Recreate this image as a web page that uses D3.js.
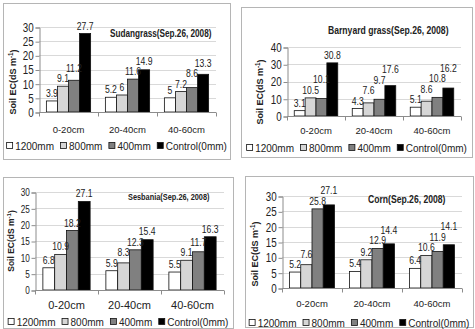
<!DOCTYPE html>
<html>
<head>
<meta charset="utf-8">
<script src="https://cdn.jsdelivr.net/npm/d3@7"></script>
<style>
body { margin: 0; background: #fff; }
svg { display: block; }
text { fill: #222; }
</style>
</head>
<body>
<script>
// depth classes and irrigation series
const categories = ["0-20cm", "20-40cm", "40-60cm"];
const seriesNames = ["1200mm", "800mm", "400mm", "Control(0mm)"];
const seriesColors = ["#ffffff", "#d6d6d6", "#808080", "#000000"];

// soil EC values, one row per depth, one value per series
const sudangrass = [[3.9, 9.1, 11.2, 27.7], [5.2, 6, 11.6, 14.9], [5, 7.2, 8.6, 13.3]];
const barnyard   = [[3.1, 10.5, 10.1, 30.8], [4.3, 7.6, 9.7, 17.6], [5.1, 8.6, 10.8, 16.2]];
const sesbania   = [[6.8, 10.9, 18.2, 27.1], [5.9, 8.3, 12.3, 15.4], [5.5, 9.1, 11.7, 16.3]];
const corn       = [[5.2, 7.6, 25.8, 27.1], [5.4, 9.2, 12.9, 14.4], [6.4, 10.6, 11.9, 14.1]];

const SANS = "'Liberation Sans',Arial,sans-serif";
const SQUEEZE = 0.82; // no narrow face installed, so squeeze Liberation Sans
const LABEL_STEP = 10.5; // vertical room one value label needs

// layout of each small chart
let panels = [
	{title: "Sudangrass(Sep.26, 2008)", data: sudangrass, yMax: 30, yStep: 5,
	 box: [3, 3, 230, 159], plot: [39, 216, 27, 112], titleX: 110, titleY: 33, titleSize: 10,
	 tickFont: 12, catY: 130, catFont: 9.5, legY: 146, yLabX: 13, yLabY: 82, yLabFont: 9},
	{title: "Barnyard grass(Sep.26, 2008)", data: barnyard, yMax: 40, yStep: 10,
	 box: [241, 7, 472, 157], plot: [287, 461, 47, 116], titleX: 328, titleY: 30, titleSize: 10.5,
	 tickFont: 12, catY: 131, catFont: 9.5, legY: 148, yLabX: 260, yLabY: 92, yLabFont: 9},
	{title: "Sesbania(Sep.26, 2008)", data: sesbania, yMax: 30, yStep: 5,
	 box: [3, 177, 233, 328], plot: [35, 224, 192, 290], titleX: 128, titleY: 197, titleSize: 9,
	 tickFont: 10, catY: 305, catFont: 11, legY: 322, yLabX: 11, yLabY: 241, yLabFont: 8.5},
	{title: "Corn(Sep.26, 2008)", data: corn, yMax: 30, yStep: 5,
	 box: [245, 176, 473, 327], plot: [282, 462, 196, 288], titleX: 368, titleY: 199, titleSize: 10.5,
	 tickFont: 12, catY: 304, catFont: 9.5, legY: 323, yLabX: 255, yLabY: 254, yLabFont: 9}
];

let svg = d3.select("body").append("svg")
	.attr("width", 475)
	.attr("height", 329);

svg.append("rect").attr("width", 475).attr("height", 329).attr("fill", "#fff");

// condensed text: plain text squeezed horizontally around its anchor
function narrowText(parent, x, y, str, size, anchor, weight) {
	return parent.append("text")
		.attr("transform", "translate(" + x + "," + y + ") scale(" + SQUEEZE + ",1)")
		.attr("text-anchor", anchor)
		.style("font-family", SANS)
		.style("font-size", size + "px")
		.style("font-weight", weight || "normal")
		.text(str);
}

panels.forEach(function(p) {
	let g = svg.append("g");
	let [px0, px1, pyTop, pyBot] = p.plot;

	// frame around the chart
	g.append("rect")
		.attr("x", p.box[0] + 0.5).attr("y", p.box[1] + 0.5)
		.attr("width", p.box[2] - p.box[0]).attr("height", p.box[3] - p.box[1])
		.attr("fill", "none").attr("stroke", "#b5b5b5");

	let xScale = d3.scaleBand().domain(categories).range([px0, px1])
		.paddingInner(0.25).paddingOuter(0.125);
	let xInner = d3.scaleBand().domain(seriesNames).range([0, xScale.bandwidth()]);
	let yScale = d3.scaleLinear().domain([0, p.yMax]).range([pyBot, pyTop]);
	let ticks = d3.range(0, p.yMax + 0.001, p.yStep);

	// gridlines
	g.append("g").selectAll("line")
		.data(ticks.slice(1))
		.enter().append("line")
			.attr("x1", px0).attr("x2", px1)
			.attr("y1", function(d) { return Math.round(yScale(d)) + 0.5; })
			.attr("y2", function(d) { return Math.round(yScale(d)) + 0.5; })
			.attr("stroke", "#d9d9d9");

	// y axis
	let yAxis = g.append("g")
		.attr("transform", "translate(" + (px0 + 0.5) + ",0.5)")
		.call(d3.axisLeft(yScale).tickValues(ticks).tickSize(4).tickPadding(3));
	yAxis.select(".domain").attr("stroke", "#8c8c8c");
	yAxis.selectAll(".tick line").attr("stroke", "#8c8c8c");
	yAxis.selectAll(".tick text")
		.attr("transform", "scale(" + SQUEEZE + ",1)")
		.style("font-family", SANS).style("font-size", p.tickFont + "px").attr("fill", "#333");

	// bars
	let groups = g.append("g").selectAll("g")
		.data(p.data)
		.enter().append("g")
			.attr("transform", function(d, i) { return "translate(" + xScale(categories[i]) + ",0)"; });

	groups.selectAll("rect")
		.data(function(d) { return d; })
		.enter().append("rect")
			.attr("x", function(d, j) { return xInner(seriesNames[j]); })
			.attr("y", function(d) { return yScale(d); })
			.attr("width", xInner.bandwidth())
			.attr("height", function(d) { return pyBot - yScale(d); })
			.attr("fill", function(d, j) { return seriesColors[j]; })
			.attr("stroke", "#111").attr("stroke-width", 0.8);

	// value labels; a label that would collide with an earlier one is lifted above it
	groups.each(function(row) {
		let grp = d3.select(this);
		let placed = [];
		row.forEach(function(v, j) {
			let cx = xInner(seriesNames[j]) + xInner.bandwidth() / 2;
			let y = yScale(v) - 4;
			let t = narrowText(grp, cx, y, String(v), 10.5, "middle").attr("fill", "#333");
			let w = t.node().getComputedTextLength() * SQUEEZE;
			let moved = true;
			while (moved) {
				moved = false;
				placed.forEach(function(q) {
					if (cx - w / 2 < q.right && Math.abs(y - q.y) < LABEL_STEP) {
						y = q.y - LABEL_STEP;
						moved = true;
					}
				});
			}
			t.attr("transform", "translate(" + cx + "," + y + ") scale(" + SQUEEZE + ",1)");
			placed.push({right: cx + w / 2, y: y});
		});
	});

	// x axis with ticks between categories
	let xAxis = g.append("g")
		.attr("transform", "translate(0," + (pyBot + 0.5) + ")");
	xAxis.append("line").attr("x1", px0).attr("x2", px1).attr("stroke", "#8c8c8c");
	xAxis.selectAll("line.tk")
		.data(d3.range(0, categories.length + 1))
		.enter().append("line")
			.attr("class", "tk")
			.attr("x1", function(i) { return Math.round(px0 + i * xScale.step()) + 0.5; })
			.attr("x2", function(i) { return Math.round(px0 + i * xScale.step()) + 0.5; })
			.attr("y1", 0).attr("y2", 4)
			.attr("stroke", "#8c8c8c");

	g.append("g").selectAll("text")
		.data(categories)
		.enter().append("text")
			.attr("x", function(d) { return xScale(d) + xScale.bandwidth() / 2; })
			.attr("y", p.catY)
			.attr("dy", "0.35em")
			.attr("text-anchor", "middle")
			.style("font-family", SANS).style("font-size", p.catFont + "px")
			.text(function(d) { return d; });

	// chart title
	narrowText(g, p.titleX, p.titleY, p.title, p.titleSize, "start", "bold")
		.attr("dy", "0.35em").attr("fill", "#111");

	// y axis title
	let yLab = g.append("text")
		.attr("transform", "translate(" + p.yLabX + "," + p.yLabY + ") rotate(-90)")
		.attr("text-anchor", "middle").attr("dy", "0.35em")
		.style("font-family", SANS).style("font-weight", "bold")
		.style("font-size", p.yLabFont + "px").attr("fill", "#111");
	yLab.append("tspan").text("Soil EC(dS m");
	yLab.append("tspan").attr("dy", "-0.45em").style("font-size", (p.yLabFont * 0.7) + "px").text("-1");
	yLab.append("tspan").attr("dy", "0.45em").text(")");

	// legend, centred in the frame
	let leg = g.append("g");
	let xPos = 0;
	seriesNames.forEach(function(name, j) {
		let item = leg.append("g").attr("transform", "translate(" + xPos + ",0)");
		item.append("rect")
			.attr("x", 0.5).attr("y", -3.5).attr("width", 6).attr("height", 6)
			.attr("fill", seriesColors[j]).attr("stroke", "#111").attr("stroke-width", 0.8);
		let t = item.append("text")
			.attr("x", 9).attr("y", 0).attr("dy", "0.35em")
			.style("font-family", SANS).style("font-size", "10px")
			.text(name);
		xPos += 9 + t.node().getComputedTextLength() + 6;
	});
	let legWidth = xPos - 6;
	let cx = (p.box[0] + p.box[2]) / 2;
	leg.attr("transform", "translate(" + (cx - legWidth / 2) + "," + p.legY + ")");
});
</script>
</body>
</html>
